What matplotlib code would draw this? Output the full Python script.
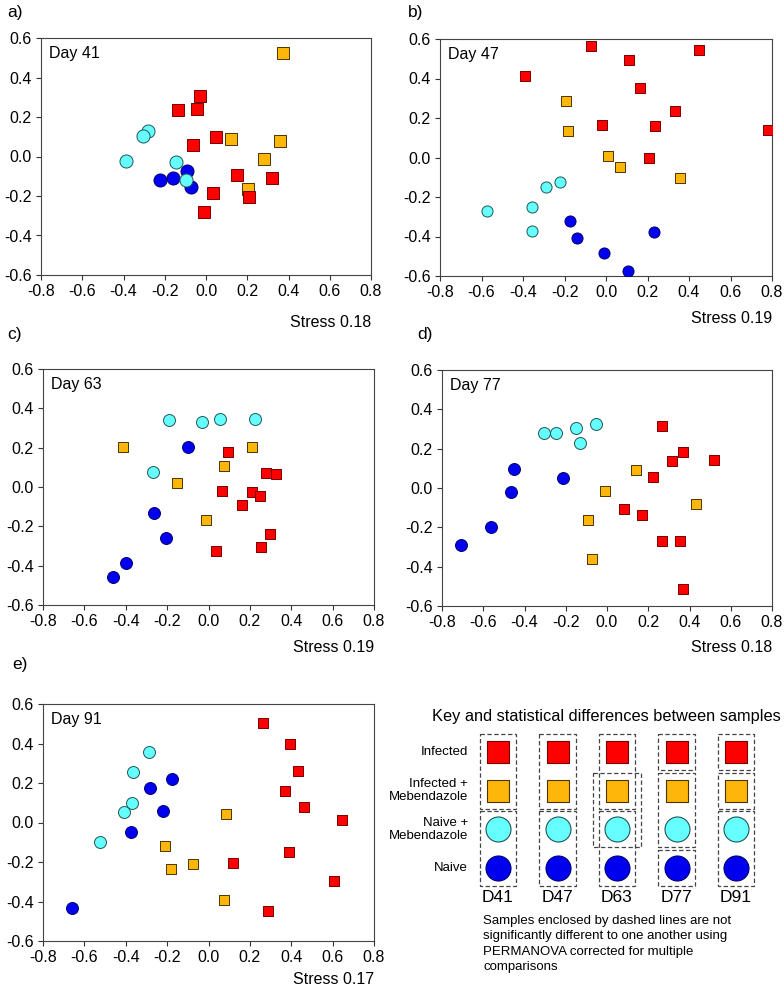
import matplotlib
matplotlib.use("Agg")
import matplotlib.pyplot as plt
from matplotlib.patches import Rectangle

plt.rcParams['font.family'] = ['Liberation Sans', 'DejaVu Sans']

# NMDS coordinates, (x, y) per sample
d41_inf = [(-0.031, 0.304), (-0.136, 0.237), (-0.044, 0.240), (0.049, 0.098), (-0.061, 0.059),
           (0.149, -0.093), (0.322, -0.110), (0.036, -0.186), (0.210, -0.203), (-0.010, -0.282)]
d41_infmeb = [(0.375, 0.524), (0.122, 0.088), (0.359, 0.079), (0.283, -0.012), (0.206, -0.166)]
d41_naimeb = [(-0.282, 0.130), (-0.306, 0.105), (-0.387, -0.022), (-0.146, -0.030), (-0.098, -0.118)]
d41_nai = [(-0.225, -0.118), (-0.162, -0.110), (-0.093, -0.071), (-0.072, -0.152)]

d47_inf = [(-0.073, 0.563), (-0.392, 0.414), (0.110, 0.492), (0.447, 0.546), (0.163, 0.352),
           (0.332, 0.235), (-0.018, 0.164), (0.235, 0.157), (0.205, 0.000), (0.782, 0.140)]
d47_infmeb = [(-0.194, 0.287), (-0.181, 0.135), (0.011, 0.010), (0.068, -0.049), (0.356, -0.105)]
d47_naimeb = [(-0.221, -0.125), (-0.290, -0.147), (-0.574, -0.272), (-0.358, -0.252), (-0.358, -0.370)]
d47_nai = [(-0.173, -0.319), (-0.140, -0.409), (-0.011, -0.482), (0.231, -0.379), (0.108, -0.573)]

d63_inf = [(0.095, 0.176), (0.277, 0.069), (0.327, 0.064), (0.063, -0.019), (0.212, -0.024),
           (0.251, -0.046), (0.164, -0.092), (0.295, -0.239), (0.253, -0.307), (0.034, -0.324)]
d63_infmeb = [(-0.414, 0.202), (0.209, 0.202), (0.077, 0.108), (-0.151, 0.020), (-0.013, -0.168)]
d63_naimeb = [(-0.190, 0.341), (-0.031, 0.329), (0.055, 0.347), (0.225, 0.347), (-0.267, 0.078)]
d63_nai = [(-0.097, 0.205), (-0.264, -0.134), (-0.206, -0.258), (-0.401, -0.385), (-0.462, -0.456)]

d77_inf = [(0.265, 0.317), (0.370, 0.181), (0.314, 0.137), (0.519, 0.142), (0.225, 0.057),
           (0.084, -0.106), (0.170, -0.135), (0.267, -0.267), (0.352, -0.271), (0.370, -0.515)]
d77_infmeb = [(0.139, 0.091), (-0.010, -0.014), (0.433, -0.082), (-0.091, -0.164), (-0.071, -0.361)]
d77_naimeb = [(-0.304, 0.278), (-0.249, 0.278), (-0.150, 0.306), (-0.052, 0.325), (-0.129, 0.227)]
d77_nai = [(-0.451, 0.096), (-0.467, -0.018), (-0.215, 0.052), (-0.562, -0.198), (-0.708, -0.291)]

d91_inf = [(0.263, 0.504), (0.395, 0.397), (0.434, 0.259), (0.371, 0.162), (0.460, 0.076),
           (0.647, 0.014), (0.387, -0.150), (0.119, -0.206), (0.605, -0.297), (0.290, -0.448)]
d91_infmeb = [(0.084, 0.041), (-0.211, -0.117), (-0.182, -0.237), (-0.076, -0.210), (0.076, -0.392)]
d91_naimeb = [(-0.287, 0.355), (-0.363, 0.255), (-0.368, 0.098), (-0.410, 0.054), (-0.524, -0.100)]
d91_nai = [(-0.177, 0.221), (-0.285, 0.174), (-0.219, 0.059), (-0.377, -0.046), (-0.661, -0.431)]

days = ["41", "47", "63", "77", "91"]
panel_letters = ["a)", "b)", "c)", "d)", "e)"]
stress = ["0.18", "0.19", "0.19", "0.18", "0.17"]

groups = ["Infected", "Infected +\nMebendazole", "Naive +\nMebendazole", "Naive"]
group_colors = ["#FF0000", "#FFB60A", "#66FFFF", "#0000EE"]
group_edges = ["#7a0000", "#4a3500", "#1f5555", "#000070"]
group_markers = ["s", "s", "o", "o"]

# groups (row indices) not significantly different, per day
nonsig = {
    "D41": [(0, 1), (2, 3)],
    "D47": [(0, 1), (2, 3)],
    "D63": [(0, 1), (1, 2), (2, 3)],
    "D77": [(0, 0), (1, 2), (3, 3)],
    "D91": [(0, 0), (1, 1), (2, 3)],
}

panel_data = [
    [d41_inf, d41_infmeb, d41_naimeb, d41_nai],
    [d47_inf, d47_infmeb, d47_naimeb, d47_nai],
    [d63_inf, d63_infmeb, d63_naimeb, d63_nai],
    [d77_inf, d77_infmeb, d77_naimeb, d77_nai],
    [d91_inf, d91_infmeb, d91_naimeb, d91_nai],
]

W, H = 784, 991
fig = plt.figure(figsize=(W / 100, H / 100), dpi=100)

# axes boxes in pixels: left, top, right, bottom
boxes = [(41, 38, 371, 275), (440, 39, 772, 276), (43, 369, 374, 605),
         (442, 370, 772, 606), (43, 704, 374, 941)]
label_pos = [(7, 12), (408, 12), (7, 335), (417, 335), (12, 665)]
stress_gap = [47, 42, 43, 42, 39]
sq_size = [8.6, 7.4, 7.7, 7.7, 7.7]
ci_size = [9.4, 8.0, 8.6, 8.6, 8.6]

for i in range(5):
    l, t, r, b = boxes[i]
    ax = fig.add_axes([l / W, 1 - b / H, (r - l) / W, (b - t) / H])
    for g in [3, 2, 1, 0]:
        pts = panel_data[i][g]
        xs = [p[0] for p in pts]
        ys = [p[1] for p in pts]
        ms = sq_size[i] if group_markers[g] == "s" else ci_size[i]
        ax.scatter(xs, ys, s=ms ** 2, marker=group_markers[g], c=group_colors[g],
                   edgecolors=group_edges[g], linewidths=0.7, zorder=3)
    ax.set_xlim(-0.8, 0.8)
    ax.set_ylim(-0.6, 0.6)
    ax.set_xticks([-0.8, -0.6, -0.4, -0.2, 0.0, 0.2, 0.4, 0.6, 0.8])
    ax.set_yticks([-0.6, -0.4, -0.2, 0.0, 0.2, 0.4, 0.6])
    ax.set_xticklabels(["%.1f" % v for v in ax.get_xticks()])
    ax.set_yticklabels(["%.1f" % v for v in ax.get_yticks()])
    ax.tick_params(direction="out", length=3.5, width=0.8, labelsize=11.5,
                   top=False, right=False, colors="#333333", labelcolor="black", pad=3)
    for sp in ax.spines.values():
        sp.set_linewidth(0.8)
        sp.set_color("#444444")
    ax.text(0.025, 0.935, "Day " + days[i], transform=ax.transAxes, fontsize=11.5,
            ha="left", va="center")
    fig.text(r / W, 1 - (b + stress_gap[i]) / H, "Stress " + stress[i], fontsize=11.5,
             ha="right", va="center")
    lx, ly = label_pos[i]
    fig.text(lx / W, 1 - ly / H, panel_letters[i], fontsize=12.5, ha="left", va="center")

# key panel: x in column units, y in row units
x0, dx = 498, 59.5
y0, dy = 752, 38.7
kax = fig.add_axes([400 / W, 0, 384 / W, (H - 650) / H])
kax.set_xlim((400 - x0) / dx, (784 - x0) / dx)
kax.set_ylim((991 - y0) / dy, (650 - y0) / dy)
kax.axis("off")

kax.text((606 - x0) / dx, (717 - y0) / dy, "Key and statistical differences between samples",
         fontsize=11.8, ha="center", va="center")

for g in range(4):
    kax.text((468 - x0) / dx, g, groups[g], fontsize=9.5, ha="right", va="center",
             linespacing=1.15)

cols = list(nonsig.keys())
for c, name in enumerate(cols):
    for g in range(4):
        ms = 16.5 if group_markers[g] == "s" else 18
        kax.scatter([c], [g], s=ms ** 2, marker=group_markers[g], c=group_colors[g],
                    edgecolors=group_edges[g], linewidths=0.8, zorder=3)
    kax.text(c, (898 - y0) / dy, name, fontsize=12.5, ha="center", va="center")
    spans = nonsig[name]
    for a, bnd in spans:
        overlap = any((a2, b2) != (a, bnd) and not (b2 < a or a2 > bnd) for a2, b2 in spans)
        hw = 0.41 if (overlap and a > 0 and bnd < 3) else 0.305
        hh = 0.465
        rect = Rectangle((c - hw, a - hh), 2 * hw, (bnd - a) + 2 * hh, fill=False,
                         ls=(0, (3.5, 2)), lw=0.9, ec="#444444", zorder=2)
        kax.add_patch(rect)

kax.text((483 - x0) / dx, (915 - y0) / dy,
         "Samples enclosed by dashed lines are not\nsignificantly different to one another using\n"
         "PERMANOVA corrected for multiple\ncomparisons",
         fontsize=9.5, ha="left", va="top", linespacing=1.38)

fig.savefig("out.png", dpi=100)
